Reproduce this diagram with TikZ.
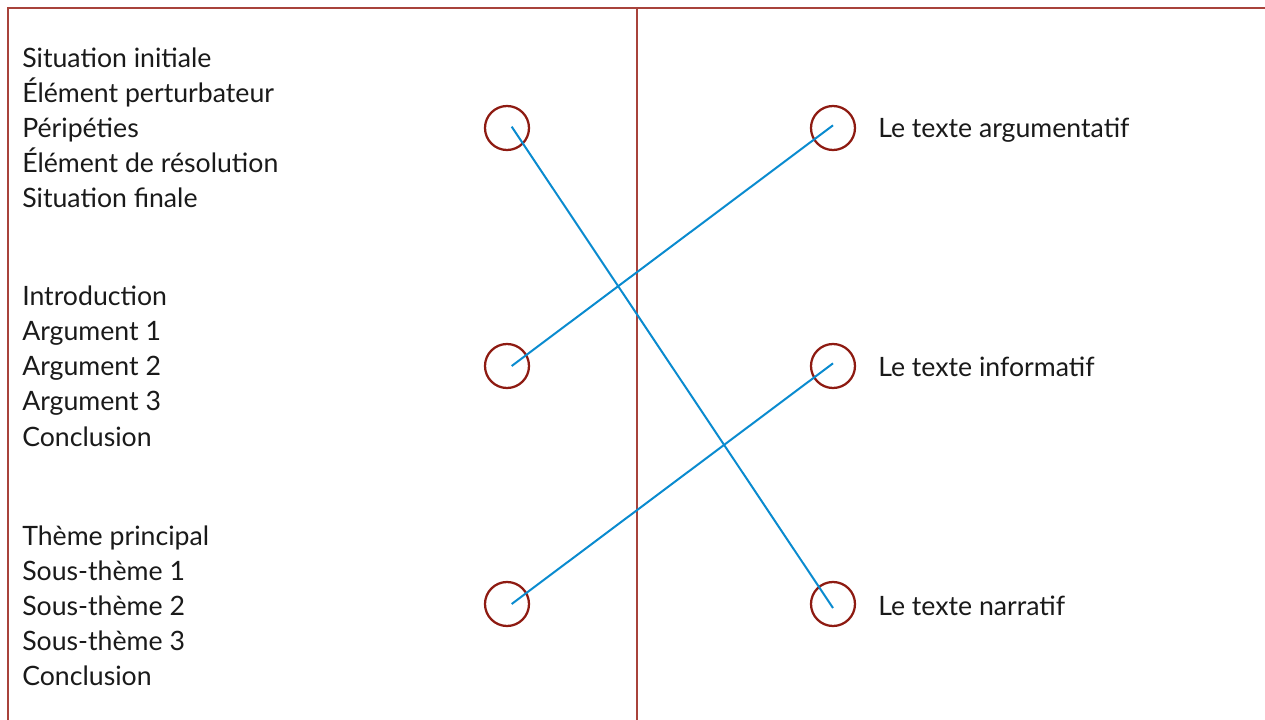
\documentclass[tikz,border=0pt]{standalone}
\usepackage{fontspec}
\setmainfont{Lato}
\usepackage{xcolor}
\usepackage{tikz}
\usetikzlibrary{positioning}
\definecolor{FrameRed}{HTML}{A8433B}
\definecolor{RingRed}{HTML}{8E1B12}
\definecolor{LinkBlue}{HTML}{0A8BCF}
\definecolor{TextInk}{HTML}{1A1A1A}
\tikzset{
  ring/.style={circle,draw=RingRed,line width=1.7pt,minimum size=33pt,inner sep=0pt},
  itemtext/.style={anchor=base west,inner sep=0pt,TextInk,
                   font=\fontsize{20}{24}\selectfont},
  link/.style={LinkBlue,line width=1.5pt},
  frame/.style={FrameRed,line width=1.2pt}
}

\begin{document}
\begin{tikzpicture}[x=0.75pt,y=-0.75pt]
  \useasboundingbox (0,0) rectangle (1265,720);
  % Frame and divider.
  \draw[frame] (8,720) -- (8,8) -- (1265,8);
  \draw[frame,line width=0.9pt] (637,8) -- (637,720);
  % Left column: three plans.
  \foreach \txt [count=\i] in {Situation initiale,Élément perturbateur,
      Péripéties,Élément de résolution,Situation finale}
    \node[itemtext] (nar\i) at (22,68+35*\i-35) {\txt};
  \foreach \txt [count=\i] in {Introduction,Argument 1,Argument 2,
      Argument 3,Conclusion}
    \node[itemtext] (arg\i) at (22,306+35*\i-35) {\txt};
  \foreach \txt [count=\i] in {Thème principal,Sous-thème 1,Sous-thème 2,
      Sous-thème 3,Conclusion}
    \node[itemtext] (inf\i) at (22,545+35*\i-35) {\txt};
  % Rings.
  \node[ring] (l1) at (507,128) {};
  \node[ring] (l2) at (507,366) {};
  \node[ring] (l3) at (507,604) {};
  \node[ring] (r1) at (833,128) {};
  \node[ring] (r2) at (833,366) {};
  \node[ring] (r3) at (833,604) {};
  % Right column: text types.
  \node[itemtext] (typarg) at (878,138) {Le texte argumentatif};
  \node[itemtext] (typinf) at (878,377) {Le texte informatif};
  \node[itemtext] (typnar) at (878,615) {Le texte narratif};
  % Matching lines.
  \draw[link] ([xshift=3.5pt,yshift=1pt]l1.center) -- ([yshift=-3pt]r3.center);
  \draw[link] ([xshift=3.5pt]l2.center) -- ([yshift=2pt]r1.center);
  \draw[link] ([xshift=3.5pt]l3.center) -- ([yshift=2pt]r2.center);
\end{tikzpicture}
\end{document}
